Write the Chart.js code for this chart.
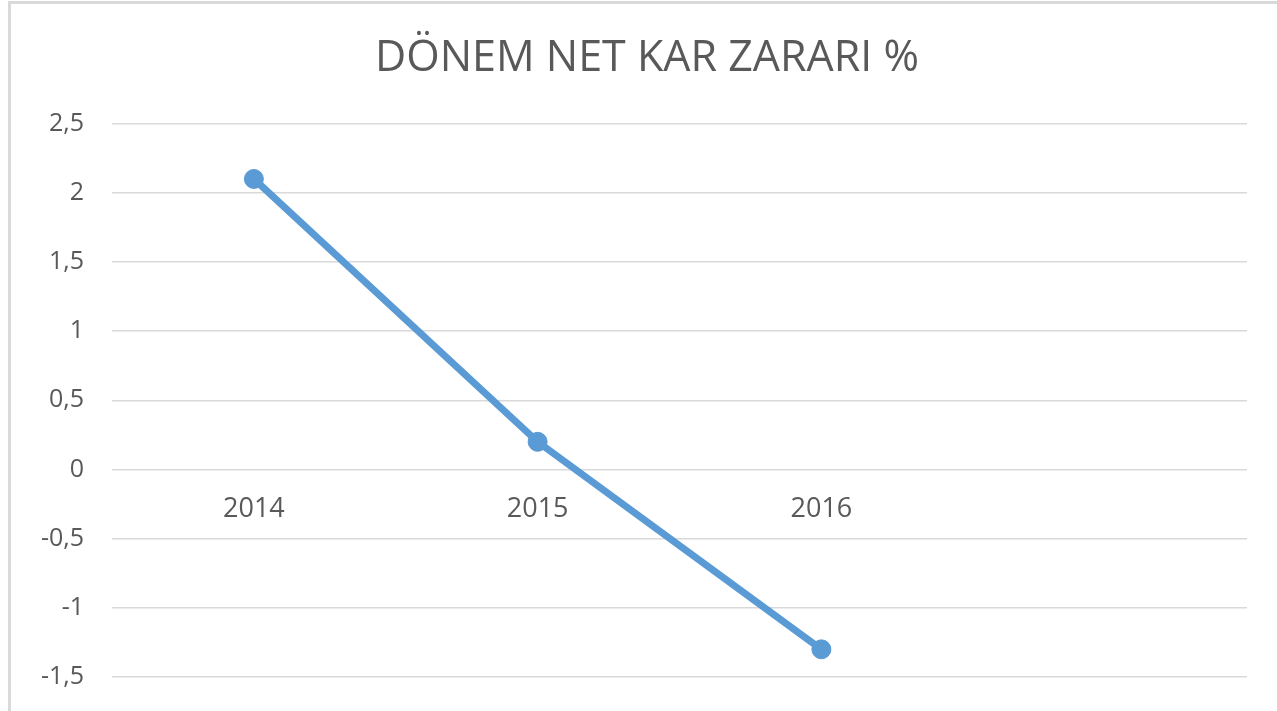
<!DOCTYPE html>
<html>
<head>
<meta charset="utf-8">
<script src="https://cdn.jsdelivr.net/npm/chart.js@4"></script>
<style>
    html, body { margin: 0; padding: 0; background: #fff; overflow: hidden; }
    #frame {
        position: absolute; left: 8px; top: 1px; width: 1400px; height: 800px;
        border-left: 3px solid #d9d9d9; border-top: 3px solid #d9d9d9;
    }
    #myChart { position: absolute; left: 0; top: 0; }
</style>
</head>
<body>
<div id="frame"></div>
<canvas id="myChart" width="1294" height="711"></canvas>
<script>
const years = ['2014', '2015', '2016', ''];
const netKarZarari = [2.1, 0.2, -1.3];
const yMin = -1.5;
const yMax = 2.5;
const yStep = 0.5;

document.addEventListener("DOMContentLoaded", () => {
    const ctx = document.getElementById('myChart').getContext('2d');
    const textColor = '#595959';
    const fontFamily = '"Open Sans", "Noto Sans", sans-serif';

    new Chart(ctx, {
        type: 'line',
        data: {
            labels: years,
            datasets: [
                {
                    label: 'DÖNEM NET KAR ZARARI %',
                    data: netKarZarari,
                    borderColor: '#5b9bd5',
                    backgroundColor: '#5b9bd5',
                    borderWidth: 7,
                    borderCapStyle: 'round',
                    pointRadius: 9.5,
                    pointBorderWidth: 1,
                    pointBackgroundColor: '#5b9bd5',
                    tension: 0
                }
            ]
        },
        options: {
            responsive: false,
            animation: false,
            layout: {
                autoPadding: false,
                padding: { top: 0, left: 0, right: 0, bottom: 34 }
            },
            plugins: {
                legend: { display: false },
                tooltip: { enabled: false },
                title: {
                    display: true,
                    text: 'DÖNEM NET KAR ZARARI %',
                    color: textColor,
                    font: { family: fontFamily, size: 43, weight: 'normal' },
                    padding: { top: 33, bottom: 39 }
                }
            },
            scales: {
                x: {
                    type: 'category',
                    offset: true,
                    position: { y: 0 },
                    grid: { display: false },
                    border: { display: false },
                    ticks: {
                        color: textColor,
                        font: { family: fontFamily, size: 27 },
                        padding: 16,
                        maxRotation: 0,
                        autoSkip: false
                    },
                    // the axis sits on the zero line, so it should not take room at the bottom
                    afterFit: scale => { scale.height = 0; }
                },
                y: {
                    min: yMin,
                    max: yMax,
                    grid: { color: '#d9d9d9', lineWidth: 1.5, drawTicks: false },
                    border: { display: false },
                    ticks: {
                        stepSize: yStep,
                        color: textColor,
                        font: { family: fontFamily, size: 25 },
                        padding: 28,
                        callback: v => String(v).replace('.', ',')
                    },
                    afterFit: scale => {
                        scale.width = 112;
                        // tick padding is only meant as a horizontal gap here
                        scale.paddingTop = 0;
                        scale.paddingBottom = 0;
                    }
                },
                // empty strip on the right so the plot ends where the reference does
                rightGap: {
                    type: 'linear',
                    position: 'right',
                    grid: { display: false },
                    border: { display: false },
                    ticks: { display: false },
                    afterFit: scale => { scale.width = 47; }
                }
            }
        }
    });
});
</script>
</body>
</html>
